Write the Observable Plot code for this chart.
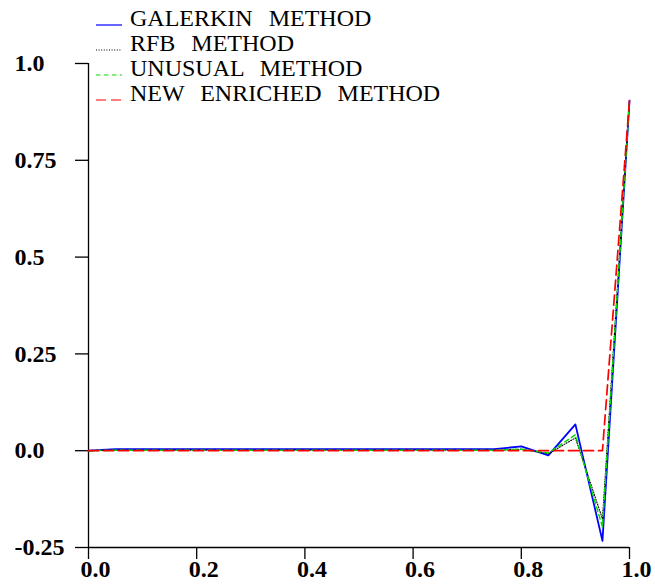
<!DOCTYPE html>
<html>
<head>
<meta charset="utf-8">
<script src="https://cdn.jsdelivr.net/npm/d3@7"></script>
<script src="https://cdn.jsdelivr.net/npm/@observablehq/plot@0.6"></script>
<style>
  html, body { margin: 0; padding: 0; background: #fff; }
</style>
</head>
<body>
<div id="chart"></div>
<script>
// Mesh nodes (h = 0.05)
const nodes = [0, 0.05, 0.1, 0.15, 0.2, 0.25, 0.3, 0.35, 0.4, 0.45, 0.5,
               0.55, 0.6, 0.65, 0.7, 0.75, 0.8, 0.85, 0.9, 0.95, 1.0];

// Nodal values of each approximation
const galerkin = [0, 0.004, 0.004, 0.004, 0.004, 0.004, 0.004, 0.004, 0.004, 0.004, 0.004,
                  0.004, 0.004, 0.004, 0.004, 0.004, 0.011, -0.012, 0.068, -0.233, 0.904];
const rfb      = [0, 0.001, 0.001, 0.001, 0.001, 0.001, 0.001, 0.001, 0.001, 0.001, 0.001,
                  0.001, 0.001, 0.001, 0.001, 0.001, 0.004, -0.008, 0.033, -0.176, 0.904];
const unusual  = [0, 0.001, 0.001, 0.001, 0.001, 0.001, 0.001, 0.001, 0.001, 0.001, 0.001,
                  0.001, 0.001, 0.001, 0.001, 0.001, 0.004, -0.006, 0.041, -0.197, 0.904];
const enriched = [0, 0, 0, 0, 0, 0, 0, 0, 0, 0, 0,
                  0, 0, 0, 0, 0, 0, 0, 0, 0, 0.904];

const seriesNames = ["GALERKIN  METHOD", "RFB  METHOD", "UNUSUAL  METHOD", "NEW  ENRICHED  METHOD"];
const seriesValues = [galerkin, rfb, unusual, enriched];

const yTicks = [-0.25, 0, 0.25, 0.5, 0.75, 1.0];
const yTickLabels = ["-0.25", "0.0", "0.25", "0.5", "0.75", "1.0"];
const xTicks = [0, 0.2, 0.4, 0.6, 0.8, 1.0];
const xTickLabels = ["0.0", "0.2", "0.4", "0.6", "0.8", "1.0"];

// Line styles per series
const styles = [
  {stroke: "#0000ff", strokeWidth: 1.8, dash: null},
  {stroke: "#000000", strokeWidth: 1.1, dash: "1,1.6"},
  {stroke: "#00dd00", strokeWidth: 1.5, dash: "4.5,3.5"},
  {stroke: "#ff0000", strokeWidth: 1.7, dash: "10,5"}
];

const rows = seriesNames.flatMap((name, i) =>
  nodes.map((x, j) => ({series: name, x, y: seriesValues[i][j]})));

const serif = "'Liberation Serif', 'Times New Roman', Times, serif";

const lineMarks = seriesNames.map((name, i) =>
  Plot.line(rows.filter(d => d.series === name), {
    x: "x", y: "y",
    stroke: styles[i].stroke,
    strokeWidth: styles[i].strokeWidth,
    strokeDasharray: styles[i].dash || undefined
  }));

const yFmt = (d) => yTickLabels[yTicks.indexOf(d)];
const xFmt = (d) => xTickLabels[xTicks.indexOf(d)];

const chart = Plot.plot({
  width: 655,
  height: 584,
  marginLeft: 88,
  marginRight: 26,
  marginTop: 63,
  marginBottom: 37,
  style: {fontFamily: serif, background: "#fff", color: "#000"},
  x: {domain: [0, 1]},
  y: {domain: [-0.25, 1.0]},
  marks: [
    // y ticks (pointing left) and left-aligned labels
    Plot.axisY({ticks: yTicks, tickSize: 13, fill: "none", stroke: "#000", strokeWidth: 1.3, label: null}),
    Plot.axisY({
      ticks: yTicks, tickFormat: yFmt,
      tickSize: 13, tickPadding: 0,
      stroke: "none", fill: "#000",
      textAnchor: "start", dx: -61,
      fontSize: 24, fontWeight: "bold",
      label: null
    }),
    // x ticks (pointing down) and labels starting just left of each tick
    Plot.axisX({ticks: xTicks, tickSize: 12, fill: "none", stroke: "#000", strokeWidth: 1.3, label: null}),
    Plot.axisX({
      ticks: xTicks, tickFormat: xFmt,
      tickSize: 12, tickPadding: 0,
      stroke: "none", fill: "#000",
      textAnchor: "start", dx: -8,
      fontSize: 24, fontWeight: "bold",
      label: null
    }),
    Plot.ruleX([0], {y1: -0.25, y2: 1.0, stroke: "#000", strokeWidth: 1.3}),
    Plot.ruleY([-0.25], {x1: 0, x2: 1, stroke: "#000", strokeWidth: 1.3}),
    ...lineMarks
  ]
});

document.getElementById("chart").appendChild(chart);

// Legend drawn into the top of the plot area
const svg = d3.select(chart);
const legend = svg.append("g").attr("class", "legend").attr("text-anchor", "start");
seriesNames.forEach((name, i) => {
  const yLine = 25 + i * 25;
  legend.append("line")
    .attr("x1", 96).attr("x2", 122)
    .attr("y1", yLine).attr("y2", yLine)
    .attr("stroke", styles[i].stroke)
    .attr("stroke-width", i === 1 ? 1 : 1.2)
    .attr("stroke-dasharray", styles[i].dash || null);
  legend.append("text")
    .attr("x", 130).attr("y", yLine + 1)
    .attr("text-anchor", "start")
    .attr("font-family", serif)
    .attr("font-size", 24)
    .attr("fill", "#000")
    .style("white-space", "pre")
    .style("word-spacing", "2px")
    .text(name);
});
</script>
</body>
</html>
